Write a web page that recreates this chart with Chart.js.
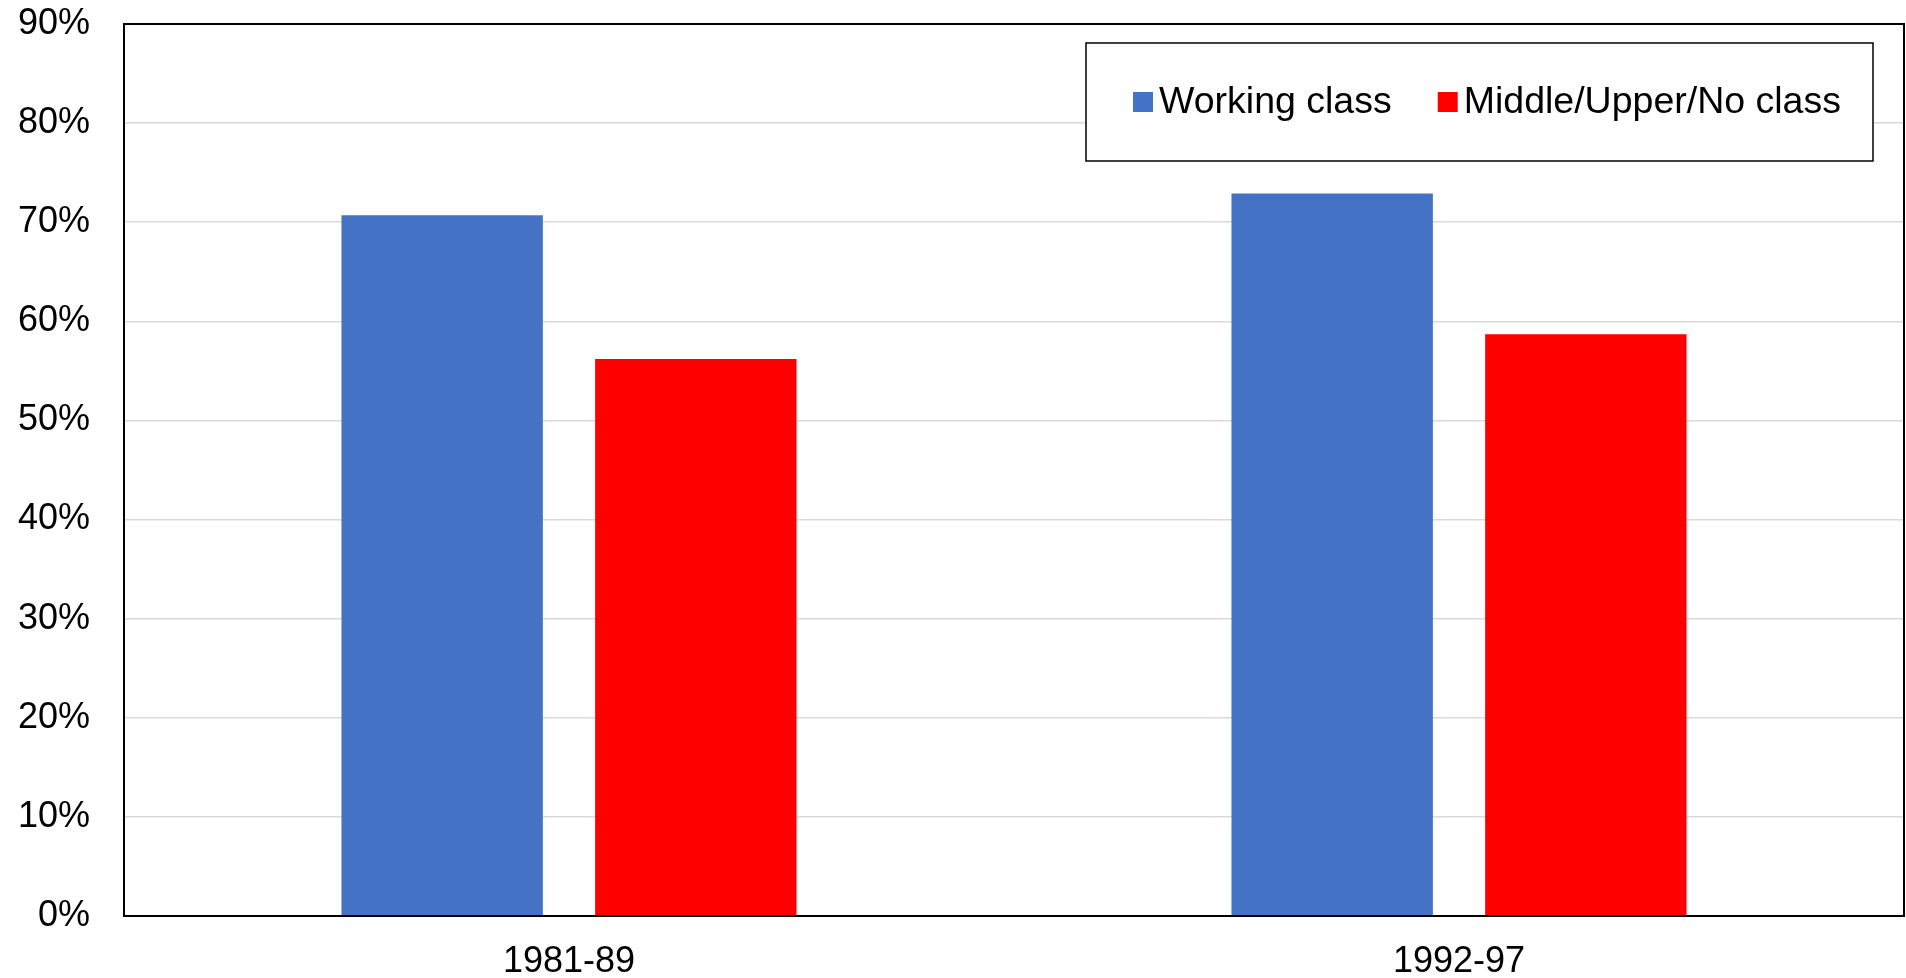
<!DOCTYPE html>
<html>
<head>
<meta charset="utf-8">
<script src="https://cdn.jsdelivr.net/npm/chart.js@4.4.1/dist/chart.umd.min.js"></script>
<style>
  html, body { margin: 0; padding: 0; background: #fff; }
  #wrap { width: 1906px; height: 978px; }
</style>
</head>
<body>
<div id="wrap"><canvas id="chart" width="1906" height="978"></canvas></div>
<script>
// Data
const periods = ['1981-89', '1992-97'];
const seriesNames = ['Working class', 'Middle/Upper/No class'];
const workingClass = [70.7, 72.9];
const middleUpperNoClass = [56.2, 58.7];
const yMax = 90;
const yStep = 10;

const FONT = '"Liberation Sans", Arial, sans-serif';

// black frame round the plot area
const plotFrame = {
  id: 'plotFrame',
  afterDatasetsDraw(chart) {
    const { ctx, chartArea: a } = chart;
    ctx.save();
    ctx.strokeStyle = '#000';
    ctx.lineWidth = 2;
    ctx.strokeRect(a.left, a.top, a.right - a.left, a.bottom - a.top);
    ctx.restore();
  }
};

// legend inside a box at the top right of the plot
const boxedLegend = {
  id: 'boxedLegend',
  afterDraw(chart) {
    const { ctx, chartArea } = chart;
    const w = 787, h = 118;
    const x = chartArea.right - 31 - w;
    const y = chartArea.top + 19;
    ctx.save();
    ctx.fillStyle = '#fff';
    ctx.fillRect(x, y, w, h);
    ctx.strokeStyle = '#000';
    ctx.lineWidth = 1.5;
    ctx.strokeRect(x, y, w, h);
    ctx.font = '37.5px ' + FONT;
    ctx.textBaseline = 'middle';
    let cx = x + 47;
    const cy = y + h / 2;
    chart.data.datasets.forEach(ds => {
      ctx.fillStyle = ds.backgroundColor;
      ctx.fillRect(cx, cy - 10, 20, 20);
      cx += 26;
      ctx.fillStyle = '#000';
      ctx.fillText(ds.label, cx, cy + 1);
      cx += ctx.measureText(ds.label).width + 46;
    });
    ctx.restore();
  }
};

new Chart(document.getElementById('chart'), {
  type: 'bar',
  data: {
    labels: periods,
    datasets: [
      {
        label: seriesNames[0],
        data: workingClass,
        backgroundColor: '#4472C4',
        categoryPercentage: 0.57,
        barPercentage: 0.794
      },
      {
        label: seriesNames[1],
        data: middleUpperNoClass,
        backgroundColor: '#FF0000',
        categoryPercentage: 0.57,
        barPercentage: 0.794
      }
    ]
  },
  options: {
    responsive: false,
    animation: false,
    devicePixelRatio: 1,
    layout: { padding: { top: 24, right: 2, left: 0, bottom: 0 } },
    plugins: {
      legend: { display: false },
      tooltip: { enabled: false }
    },
    scales: {
      x: {
        grid: { display: false, drawTicks: false },
        border: { display: false },
        ticks: {
          color: '#000',
          padding: 24,
          font: { family: FONT, size: 36 }
        },
        afterFit(scale) {
          scale.height = 62;
          scale.paddingLeft = 0;
          scale.paddingRight = 0;
        }
      },
      y: {
        min: 0,
        max: yMax,
        grid: { color: '#d9d9d9', lineWidth: 1.5, drawTicks: false },
        border: { display: false },
        ticks: {
          stepSize: yStep,
          color: '#000',
          padding: 34,
          font: { family: FONT, size: 36 },
          callback: v => v + '%'
        },
        afterFit(scale) {
          scale.width = 124;
          scale.paddingTop = 0;
          scale.paddingBottom = 0;
        }
      }
    }
  },
  plugins: [plotFrame, boxedLegend]
});
</script>
</body>
</html>
